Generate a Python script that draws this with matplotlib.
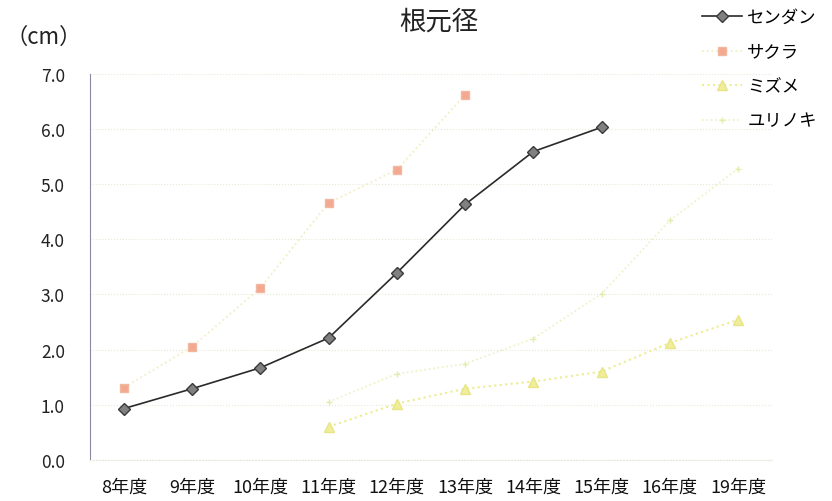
import matplotlib
matplotlib.use("Agg")
import matplotlib.pyplot as plt
import numpy as np

plt.rcParams['font.family'] = ['Noto Sans CJK JP', 'DejaVu Sans']

categories = ['8年度', '9年度', '10年度', '11年度', '12年度', '13年度', '14年度', '15年度', '16年度', '19年度']
sendan = [0.93, 1.29, 1.67, 2.21, 3.39, 4.63, 5.59, 6.03, None, None]
sakura = [1.31, 2.05, 3.12, 4.66, 5.26, 6.62, None, None, None, None]
mizume = [None, None, None, 0.60, 1.02, 1.29, 1.42, 1.60, 2.12, 2.54]
yurinoki = [None, None, None, 1.05, 1.56, 1.74, 2.20, 3.01, 4.34, 5.28]
yticks = [0.0, 1.0, 2.0, 3.0, 4.0, 5.0, 6.0, 7.0]

def arr(v):
    return np.array([np.nan if a is None else a for a in v], dtype=float)

fig = plt.figure(figsize=(8.32, 5.02), dpi=100)
ax = fig.add_axes([0.108, 0.082, 0.82, 0.769])
x = np.arange(len(categories))

ax.plot(x, arr(yurinoki), color='#eef0c0', linestyle=':', linewidth=1.2,
        marker='+', markersize=4, markeredgecolor='#e4ecb0', label='ユリノキ', zorder=2)
ax.plot(x, arr(mizume), color='#ecec90', linestyle=':', linewidth=1.5,
        marker='^', markersize=7, markerfacecolor='#f0ee98', markeredgecolor='#e8e488', label='ミズメ', zorder=3)
ax.plot(x, arr(sakura), color='#f2eec4', linestyle=':', linewidth=1.3,
        marker='s', markersize=6, markerfacecolor='#f4a890', markeredgecolor='#f0b8a0', label='サクラ', zorder=3)
ax.plot(x, arr(sendan), color='#2a2a2a', linestyle='-', linewidth=1.2,
        marker='D', markersize=6, markerfacecolor='#808080', markeredgecolor='#3a3a3a', label='センダン', zorder=4)

ax.set_xlim(-0.5, len(categories) - 0.5)
ax.set_ylim(0, 7)
ax.set_yticks(yticks)
ax.set_yticklabels([f'{v:.1f}' for v in yticks], fontsize=12.5, color='#222222')
ax.set_xticks(x)
ax.set_xticklabels(categories, fontsize=13, color='#111111')
ax.tick_params(axis='both', length=0)
ax.tick_params(axis='y', pad=18)
ax.tick_params(axis='x', pad=13)
ax.yaxis.grid(True, color='#e8e8d8', linestyle=':', linewidth=0.8)
ax.set_axisbelow(True)
for s in ['top', 'right']:
    ax.spines[s].set_visible(False)
ax.spines['left'].set_color('#8a8aa0')
ax.spines['left'].set_linewidth(0.8)
ax.spines['bottom'].set_color('#e8e8d8')
ax.spines['bottom'].set_linestyle(':')

handles, labels = ax.get_legend_handles_labels()
order = [3, 2, 1, 0]
fig.legend([handles[i] for i in order], [labels[i] for i in order],
           loc='upper left', bbox_to_anchor=(0.825, 1.013), frameon=False,
           fontsize=12.5, handlelength=2.3, handletextpad=0.3, labelspacing=0.95)

fig.text(0.527, 0.955, '根元径', ha='center', va='center', fontsize=19, color='#222222')
fig.text(0.052, 0.925, '（cm）', ha='center', va='center', fontsize=16, color='#222222')

fig.savefig('out.png', dpi=100)
